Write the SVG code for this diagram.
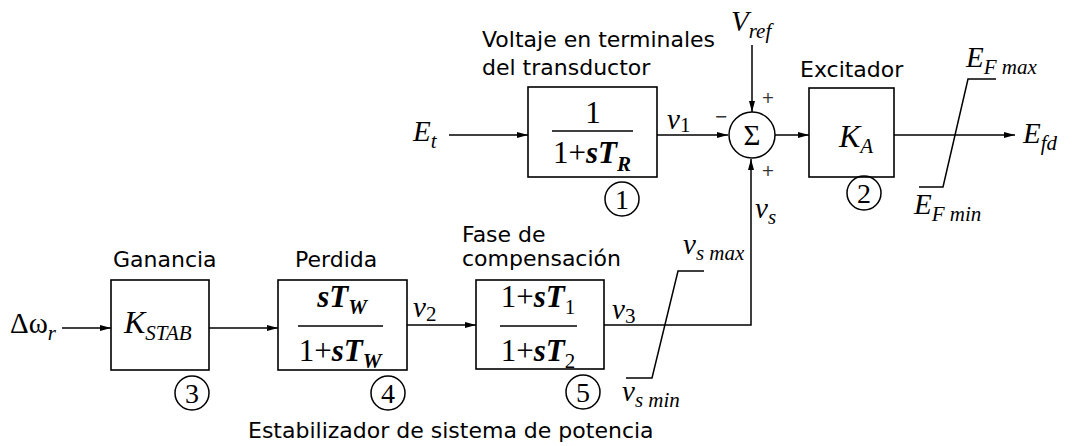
<svg xmlns="http://www.w3.org/2000/svg" width="1078" height="446" viewBox="0 0 1078 446">
<style>
.box{fill:none;stroke:#000;stroke-width:1.6}
.ln{fill:none;stroke:#000;stroke-width:1.5}
.lbl{font-family:"DejaVu Sans",sans-serif;font-size:22px;fill:#000}
.m{font-family:"Liberation Serif",serif;font-size:29px;fill:#000}
.fr{font-family:"Liberation Serif",serif;font-size:31px;fill:#000}
.k{font-family:"Liberation Serif",serif;font-size:32px;fill:#000}
.i{font-style:italic}
.b{font-weight:bold}
.sub{font-size:21px}
.num{font-family:"Liberation Serif",serif;font-size:28px;fill:#000}
.sgn{font-family:"DejaVu Sans",sans-serif;font-size:16px;fill:#333}
</style>
<defs>
<marker id="ar" markerWidth="12" markerHeight="8" refX="11" refY="4" orient="auto" markerUnits="userSpaceOnUse">
<path d="M0,1 L11,4 L0,7 Z" fill="#000"/>
</marker>
</defs>
<g id="connectors">
<line class="ln" x1="449" y1="135" x2="528" y2="135" marker-end="url(#ar)"/>
<line class="ln" x1="657" y1="135" x2="728" y2="135" marker-end="url(#ar)"/>
<line class="ln" x1="752" y1="45" x2="752" y2="112" marker-end="url(#ar)"/>
<line class="ln" x1="775" y1="135" x2="809" y2="135" marker-end="url(#ar)"/>
<line class="ln" x1="894" y1="135" x2="1015" y2="135" marker-end="url(#ar)"/>
<line class="ln" x1="62" y1="328" x2="111" y2="328" marker-end="url(#ar)"/>
<line class="ln" x1="209" y1="328" x2="278" y2="328" marker-end="url(#ar)"/>
<line class="ln" x1="407" y1="325" x2="476" y2="325" marker-end="url(#ar)"/>
<polyline class="ln" points="604,325 751,325 751,159" marker-end="url(#ar)"/>
<polyline class="ln" points="996,79 968,79 943,187 919,187"/>
<polyline class="ln" points="704,271 678,271 652,378 626,378"/>
</g>
<g id="input-Et"><text class="m i" x="413" y="141">E<tspan class="sub" dy="7">t</tspan></text></g>
<g id="label-voltaje">
<text class="lbl" x="482" y="47">Voltaje en terminales</text>
<text class="lbl" x="482" y="75">del transductor</text>
</g>
<g id="block1">
<rect class="box" x="528" y="87" width="129" height="90"/>
<text class="fr" x="593" y="123" text-anchor="middle">1</text>
<line class="ln" x1="552" y1="131" x2="633" y2="131"/>
<text class="fr" x="592" y="163" text-anchor="middle">1+<tspan class="i b">sT</tspan><tspan class="sub i b" dy="8">R</tspan></text>
<circle class="ln" cx="622" cy="199" r="17"/>
<text class="num" x="622" y="209" text-anchor="middle">1</text>
</g>
<g id="sig-v1"><text class="m i" x="667" y="129">v<tspan class="sub" font-style="normal" dy="3">1</tspan></text></g>
<g id="sum">
<circle class="ln" cx="752" cy="135" r="23"/>
<text class="m" x="752" y="145" text-anchor="middle">Σ</text>
<text class="sgn" x="721" y="122" text-anchor="middle">−</text>
<text class="sgn" x="768" y="103" text-anchor="middle">+</text>
<text class="sgn" x="768" y="176" text-anchor="middle">+</text>
</g>
<g id="input-Vref"><text class="m i" x="731" y="31">V<tspan class="sub" dy="7">ref</tspan></text></g>
<g id="label-excitador"><text class="lbl" x="800" y="77">Excitador</text></g>
<g id="block2">
<rect class="box" x="809" y="88" width="85" height="89"/>
<text class="k i" x="839" y="147">K<tspan class="sub" dy="6">A</tspan></text>
<circle class="ln" cx="864" cy="193" r="17"/>
<text class="num" x="864" y="203" text-anchor="middle">2</text>
</g>
<g id="limit-EF">
<text class="m i" x="966" y="67">E<tspan class="sub" dy="7">F max</tspan></text>
<text class="m i" x="914" y="214">E<tspan class="sub" dy="7">F min</tspan></text>
</g>
<g id="output-Efd"><text class="m i" x="1023" y="143">E<tspan class="sub" dy="7">fd</tspan></text></g>
<g id="sig-vs"><text class="m i" x="755" y="218">v<tspan class="sub" dy="6">s</tspan></text></g>
<g id="input-dw"><text class="m" x="10" y="333">Δω<tspan class="sub i" dy="7">r</tspan></text></g>
<g id="label-ganancia"><text class="lbl" x="113" y="267">Ganancia</text></g>
<g id="block3">
<rect class="box" x="111" y="280" width="98" height="90"/>
<text class="k i" x="124" y="333">K<tspan class="sub" font-size="23px" dy="7">STAB</tspan></text>
<circle class="ln" cx="192" cy="393" r="17"/>
<text class="num" x="192" y="403" text-anchor="middle">3</text>
</g>
<g id="label-perdida"><text class="lbl" x="295" y="267">Perdida</text></g>
<g id="block4">
<rect class="box" x="278" y="280" width="129" height="90"/>
<text class="fr i b" x="342" y="307" text-anchor="middle">sT<tspan class="sub" dy="7">W</tspan></text>
<line class="ln" x1="298" y1="326" x2="383" y2="326"/>
<text class="fr" x="340" y="361" text-anchor="middle">1+<tspan class="i b">sT</tspan><tspan class="sub i b" dy="7">W</tspan></text>
<circle class="ln" cx="388" cy="393" r="17"/>
<text class="num" x="388" y="403" text-anchor="middle">4</text>
</g>
<g id="sig-v2"><text class="m i" x="413" y="317">v<tspan class="sub" font-style="normal" dy="4">2</tspan></text></g>
<g id="label-fase">
<text class="lbl" x="462" y="242">Fase de</text>
<text class="lbl" x="462" y="266">compensación</text>
</g>
<g id="block5">
<rect class="box" x="476" y="280" width="128" height="89"/>
<text class="fr" x="538" y="307" text-anchor="middle">1+<tspan class="i b">sT</tspan><tspan class="sub" dy="7">1</tspan></text>
<line class="ln" x1="500" y1="326" x2="577" y2="326"/>
<text class="fr" x="538" y="361" text-anchor="middle">1+<tspan class="i b">sT</tspan><tspan class="sub" dy="7">2</tspan></text>
<circle class="ln" cx="583" cy="392" r="17"/>
<text class="num" x="583" y="402" text-anchor="middle">5</text>
</g>
<g id="sig-v3"><text class="m i" x="612" y="319">v<tspan class="sub" font-style="normal" dy="4">3</tspan></text></g>
<g id="limit-vs">
<text class="m i" x="683" y="254">v<tspan class="sub" dy="6">s max</tspan></text>
<text class="m i" x="622" y="401">v<tspan class="sub" dy="6">s min</tspan></text>
</g>
<g id="label-estabilizador"><text class="lbl" x="248" y="438">Estabilizador de sistema de potencia</text></g>
</svg>
